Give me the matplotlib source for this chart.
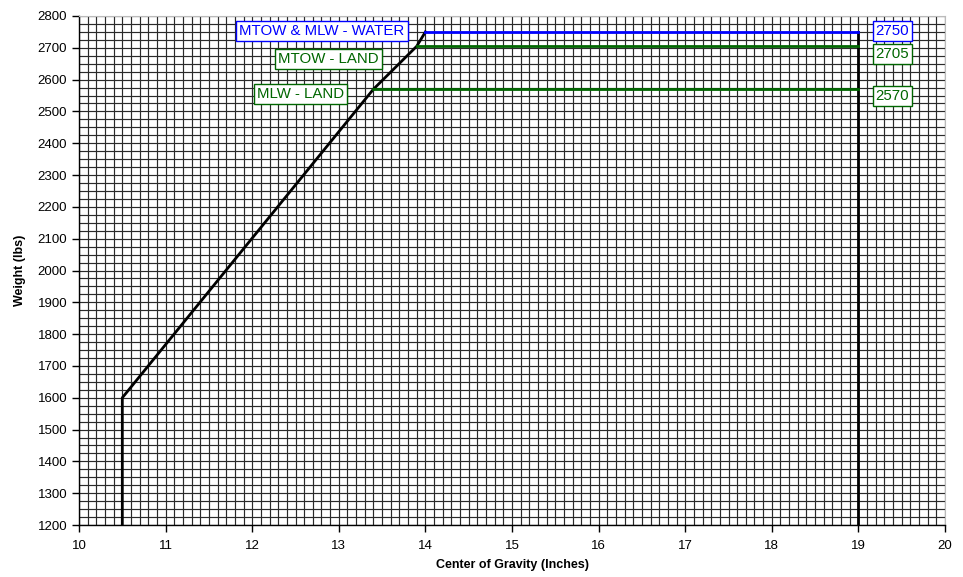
import numpy as np
import matplotlib
matplotlib.use("Agg")
import matplotlib.pyplot as plt
from matplotlib.ticker import MultipleLocator

plt.rcParams['font.family'] = ['Liberation Sans', 'DejaVu Sans']

# ---- data ----
env_x = [10.5, 10.5, 13.4, 13.9, 14.0]
env_y = [1200, 1600, 2570, 2705, 2750]
aft_x = [19.0, 19.0]
aft_y = [2750, 1200]

limit_names = ["MTOW & MLW - WATER", "MTOW - LAND", "MLW - LAND"]
limit_weights = [2750, 2705, 2570]
limit_start = [14.0, 13.9, 13.4]
limit_end = [19.0, 19.0, 19.0]
limit_colors = ["#0000ff", "#006600", "#006600"]
name_x = [13.76, 13.46, 13.06]   # right edge of the name boxes
name_y = [2752, 2665, 2555]
value_y = [2754, 2680, 2548]

fig = plt.figure(figsize=(9.63, 5.77), dpi=100)
ax = fig.add_axes([79/963, 52/577, 866/963, 509/577])

ax.set_xlim(10, 20)
ax.set_ylim(1200, 2800)
ax.xaxis.set_major_locator(MultipleLocator(1))
ax.yaxis.set_major_locator(MultipleLocator(100))
ax.xaxis.set_minor_locator(MultipleLocator(0.1))
ax.yaxis.set_minor_locator(MultipleLocator(25))
ax.grid(which='both', color='#2a2a2a', linewidth=0.85, zorder=0)
ax.set_axisbelow(True)
ax.tick_params(axis='both', which='minor', length=0)
ax.tick_params(axis='both', which='major', length=5, width=1, labelsize=9.5, direction='out')
ax.tick_params(axis='x', pad=6)

for s in ['top', 'right']:
    ax.spines[s].set_color('#bbbbbb')
for s in ['left', 'bottom']:
    ax.spines[s].set_color('black')
    ax.spines[s].set_linewidth(1)

ax.plot(env_x, env_y, color='black', linewidth=2, zorder=3)
ax.plot(aft_x, aft_y, color='black', linewidth=2, zorder=3)

for i in range(len(limit_weights)):
    ax.plot([limit_start[i], limit_end[i]], [limit_weights[i], limit_weights[i]],
            color=limit_colors[i], linewidth=2, zorder=3)
    ax.text(name_x[i], name_y[i], limit_names[i], ha='right', va='center',
            fontsize=10.8, color=limit_colors[i], zorder=5,
            bbox=dict(boxstyle='square,pad=0.2', fc='white', ec=limit_colors[i], lw=1))
    ax.text(19.2, value_y[i], str(limit_weights[i]), ha='left', va='center',
            fontsize=10.8, color=limit_colors[i], zorder=5,
            bbox=dict(boxstyle='square,pad=0.2', fc='white', ec=limit_colors[i], lw=1))

ax.set_xlabel("Center of Gravity (Inches)", fontsize=9, fontweight='bold', labelpad=5)
ax.set_ylabel("Weight (lbs)", fontsize=9, fontweight='bold', labelpad=8)

fig.savefig("out.png", dpi=100)
